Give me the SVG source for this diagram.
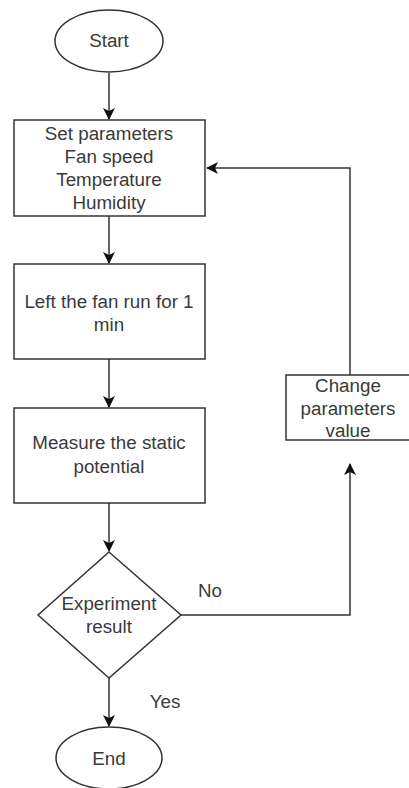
<svg xmlns="http://www.w3.org/2000/svg" width="409" height="788" viewBox="0 0 409 788">
<defs>
<style>
.s{fill:#fff;stroke:#333;stroke-width:1.5}
.t{font-family:"Liberation Sans",Arial,sans-serif;font-size:18.8px;fill:#3a3a3a;text-anchor:middle}
.c{fill:none;stroke:#333;stroke-width:1.5}
</style>
<marker id="a" markerWidth="12" markerHeight="12" refX="11" refY="6" orient="auto" markerUnits="userSpaceOnUse">
<path d="M0,0 L12,6 L0,12 L3,6 Z" fill="#111"/>
</marker>
</defs>
<rect width="409" height="788" fill="#fff"/>
<g id="connectors">
<line class="c" x1="109" y1="73" x2="109" y2="119" marker-end="url(#a)"/>
<line class="c" x1="109" y1="216" x2="109" y2="263" marker-end="url(#a)"/>
<line class="c" x1="109" y1="359" x2="109" y2="407" marker-end="url(#a)"/>
<line class="c" x1="109" y1="503" x2="109" y2="551" marker-end="url(#a)"/>
<line class="c" x1="109" y1="678" x2="109" y2="726" marker-end="url(#a)"/>
<polyline class="c" points="181,615 350,615 350,464" marker-end="url(#a)"/>
<polyline class="c" points="350,375 350,168 207,168" marker-end="url(#a)"/>
<text class="t" x="210" y="597">No</text>
<text class="t" x="165" y="708">Yes</text>
</g>
<g id="start">
<ellipse class="s" cx="109" cy="41" rx="54" ry="31"/>
<text class="t" x="109" y="47">Start</text>
</g>
<g id="set">
<rect class="s" x="14" y="120" width="191" height="96"/>
<text class="t" x="109" y="140">Set parameters</text>
<text class="t" x="109" y="163">Fan speed</text>
<text class="t" x="109" y="186">Temperature</text>
<text class="t" x="109" y="209">Humidity</text>
</g>
<g id="run">
<rect class="s" x="14" y="264" width="191" height="95"/>
<text class="t" x="109" y="308">Left the fan run for 1</text>
<text class="t" x="109" y="331">min</text>
</g>
<g id="measure">
<rect class="s" x="14" y="408" width="191" height="95"/>
<text class="t" x="109" y="449">Measure the static</text>
<text class="t" x="109" y="473">potential</text>
</g>
<g id="decision">
<polygon class="s" points="109,552 181,615 109,678 38,615"/>
<text class="t" x="109" y="610">Experiment</text>
<text class="t" x="109" y="633">result</text>
</g>
<g id="change">
<rect class="s" x="286" y="375" width="126" height="65"/>
<text class="t" x="348" y="392">Change</text>
<text class="t" x="348" y="415">parameters</text>
<text class="t" x="348" y="437">value</text>
</g>
<g id="end">
<ellipse class="s" cx="109" cy="758" rx="53" ry="31"/>
<text class="t" x="109" y="765">End</text>
</g>
</svg>
